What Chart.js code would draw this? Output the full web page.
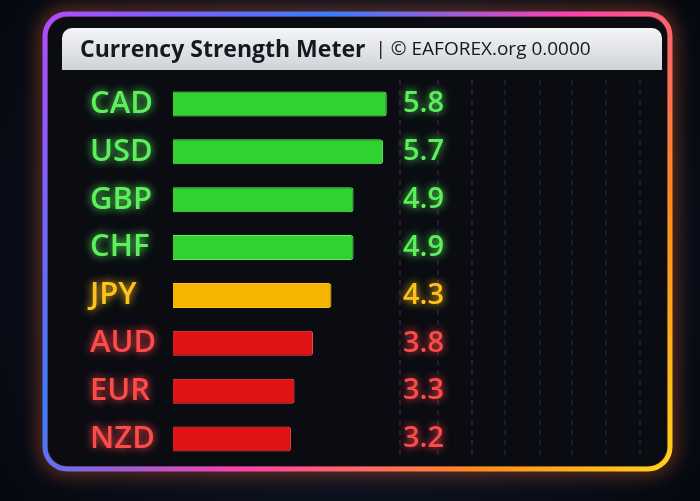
<!DOCTYPE html>
<html><head><meta charset="utf-8">
<script src="https://cdn.jsdelivr.net/npm/chart.js@4"></script>
<style>html,body{margin:0;padding:0;background:#070a14;}canvas{display:block}</style>
</head><body>
<div style="width:700px;height:501px"><canvas id="c"></canvas></div>
<script>
const categories = ["CAD","USD","GBP","CHF","JPY","AUD","EUR","NZD"];
const strength = [5.8,5.7,4.9,4.9,4.3,3.8,3.3,3.2];
const titleText = "Currency Strength Meter";
const subText = "| © EAFOREX.org 0.0000";

function tier(v){ return v>=4.5?0:(v>=4?1:2); }
const barCols = ["#2fd22f","#f5b400","#e01414"];
const txtCols = ["#5cf05c","#ffc21a","#ff4a4a"];

const framePlugin = {
  id:'frame',
  beforeDraw(ch){
    const c=ch.ctx; c.save();
    const g=c.createRadialGradient(350,250,50,350,250,450);
    g.addColorStop(0,'#121a2e');g.addColorStop(1,'#05070d');
    c.fillStyle=g;c.fillRect(0,0,700,501);
    const x=45,y=14,w=625,h=455;
    const grad=c.createLinearGradient(x,y,x+w,y+h);
    grad.addColorStop(0,'#b04cff');grad.addColorStop(0.3,'#3a7bff');
    grad.addColorStop(0.55,'#ff3fb0');grad.addColorStop(0.8,'#ff8c1a');grad.addColorStop(1,'#ffd21a');
    c.shadowColor='#ff6a30';c.shadowBlur=18;
    c.strokeStyle=grad;c.lineWidth=5;
    c.beginPath();c.roundRect(x,y,w,h,22);c.stroke();
    c.shadowBlur=0;
    c.fillStyle='#0a0c12';c.beginPath();c.roundRect(x+3,y+3,w-6,h-6,20);c.fill();
    const tg=c.createLinearGradient(0,28,0,70);
    tg.addColorStop(0,'#f4f5f7');tg.addColorStop(1,'#cfd3d8');
    c.fillStyle=tg;c.beginPath();c.roundRect(62,28,600,42,[10,10,0,0]);c.fill();
    c.fillStyle='#15181f';c.textBaseline='middle';
    c.font='bold 23px "Open Sans", sans-serif';c.fillText(titleText,80,50);
    const tw=c.measureText(titleText).width;
    c.font='19px "Open Sans", sans-serif';c.fillText(subText,80+tw+10,50);
    c.setLineDash([5,5]);c.lineWidth=1;
    [400,438,472,505,540,572,606,640].forEach((px,i)=>{
      c.strokeStyle=i<3?'rgba(230,80,200,0.35)':'rgba(90,130,220,0.35)';
      c.beginPath();c.moveTo(px,80);c.lineTo(px,460);c.stroke();
    });
    c.restore();
  },
  afterDatasetsDraw(ch){
    const c=ch.ctx; const meta=ch.getDatasetMeta(0); c.save();
    c.textBaseline='middle';
    meta.data.forEach((b,i)=>{
      const t=tier(strength[i]);
      c.shadowColor=txtCols[t];c.shadowBlur=8;c.fillStyle=txtCols[t];
      c.font='600 31px "Open Sans", sans-serif';
      c.textAlign='left';c.fillText(categories[i],90,b.y);
      c.font='600 29px "Open Sans", sans-serif';
      c.fillText(strength[i].toFixed(1),403,b.y);
    });
    c.restore();
  }
};

new Chart(document.getElementById('c'),{
  type:'bar',
  data:{labels:categories,datasets:[{data:strength,
    backgroundColor:strength.map(v=>barCols[tier(v)]),
    borderColor:strength.map(v=>txtCols[tier(v)]),borderWidth:1,
    borderRadius:3,barPercentage:0.52,categoryPercentage:1}]},
  options:{responsive:true,maintainAspectRatio:false,animation:false,indexAxis:'y',
    layout:{padding:{left:173,right:0,top:80,bottom:38}},
    plugins:{legend:{display:false},tooltip:{enabled:false}},
    scales:{x:{min:0,max:14.3,display:false},y:{display:false}}},
  plugins:[framePlugin]
});
</script></body></html>
